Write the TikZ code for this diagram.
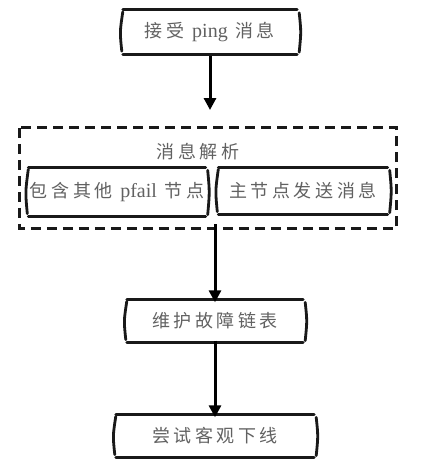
\documentclass[tikz,border=0pt]{standalone}
\usepackage{fontspec}
\newfontfamily\cjk[LetterSpace=20]{Noto Sans CJK SC}
\setmainfont{Liberation Serif}
\usetikzlibrary{arrows.meta}
\tikzset{
  lbl/.style={text=black!62, font=\fontsize{18}{20}\selectfont\cjk, inner sep=0pt},
  edge/.style={line width=2.8pt, black!90, line cap=round},
  side/.style={line width=2.8pt, black!90, line cap=round},
  dashbox/.style={line width=2.8pt, dash pattern=on 10pt off 6pt, black!90},
  arr/.style={line width=3pt, -{Triangle[length=12pt,width=12pt]}}
}
\newcommand{\lat}[1]{{\rmfamily\fontsize{20}{20}\selectfont #1}}
\newcommand{\sketchbox}[1]{%
  \draw[edge] ([xshift=-1pt]#1.north west) -- ([xshift=1pt]#1.north east);
  \draw[edge] ([xshift=-1pt]#1.south west) -- ([xshift=1pt]#1.south east);
  \draw[side] ([xshift=-1pt,yshift=-2pt]#1.north west) .. controls ([xshift=-4pt]#1.west) .. ([xshift=-2pt,yshift=3pt]#1.south west);
  \draw[side] ([xshift=3pt,yshift=-3pt]#1.north east) .. controls ([xshift=5pt]#1.east) .. ([xshift=3pt,yshift=2pt]#1.south east);
}
\begin{document}
\begin{tikzpicture}[x=1pt,y=-1pt]
\useasboundingbox (0,0) rectangle (422,475);
\node[lbl, minimum width=172pt, minimum height=44pt] (b1) at (210,32) {接受 \lat{ping} 消息};
\sketchbox{b1}
\node[minimum width=377pt, minimum height=100pt, inner sep=0pt] (grp) at (208,178) {};
\draw[dashbox] (grp.north west) rectangle (grp.south east);
\node[lbl] (title) at (198,152) {消息解析};
\node[lbl, minimum width=175pt, minimum height=49pt] (b2a) at (117,192) {包含其他 \lat{pfail} 节点};
\sketchbox{b2a}
\node[lbl, minimum width=167pt, minimum height=47pt] (b2b) at (303,191) {主节点发送消息};
\sketchbox{b2b}
\node[lbl, minimum width=174pt, minimum height=43pt] (b3) at (215,321) {维护故障链表};
\sketchbox{b3}
\node[lbl, minimum width=196pt, minimum height=43pt] (b4) at (215,436) {尝试客观下线};
\sketchbox{b4}
\coordinate (t1) at (210,110);
\draw[arr] (b1.south) ++(0,2) -- (t1);
\draw[arr] ([xshift=7pt,yshift=4pt]grp.south) -- ([yshift=-3pt]b3.north);
\draw[arr] ([yshift=2pt]b3.south) -- ([yshift=-3pt]b4.north);
\end{tikzpicture}
\end{document}
